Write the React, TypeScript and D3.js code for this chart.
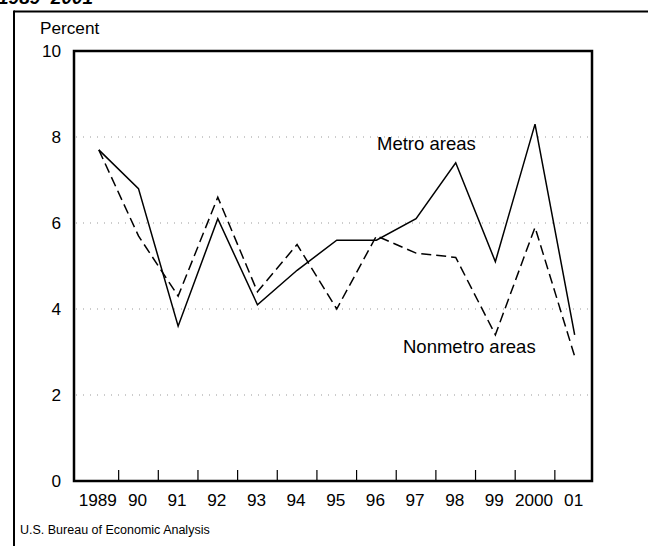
import React from "react";
import * as d3 from "d3";

const years = ["1989", "90", "91", "92", "93", "94", "95", "96", "97", "98", "99", "2000", "01"];
const metro = [7.7, 6.8, 3.6, 6.1, 4.1, 4.9, 5.6, 5.6, 6.1, 7.4, 5.1, 8.3, 3.4];
const nonmetro = [7.7, 5.7, 4.3, 6.6, 4.4, 5.5, 4.0, 5.7, 5.3, 5.2, 3.4, 5.9, 2.9];
const yTicks = [0, 2, 4, 6, 8, 10];
const gridTicks = [2, 4, 6, 8];

const W = 648;
const H = 546;
const plotL = 74;
const plotR = 592;
const plotT = 51;
const plotB = 481;
const FONT = "Arial, 'Liberation Sans', Helvetica, sans-serif";

export default function App() {
  const x = d3.scaleBand<string>().domain(years).range([79, 594.5]);
  const y = d3.scaleLinear().domain([0, 10]).range([plotB, plotT]);
  const cx = (i: number) => (x(years[i]) as number) + x.bandwidth() / 2;
  const line = d3
    .line<number>()
    .x((_, i) => cx(i))
    .y((d) => y(d));
  const boundaries = years.slice(1).map((yr) => x(yr) as number);

  return (
    <svg
      width={W}
      height={H}
      style={{ position: "absolute", left: 0, top: 0, background: "#fff" }}
      fontFamily={FONT}
    >
      <rect x={0} y={0} width={W} height={H} fill="#fff" />
      {/* partially cut title */}
      <text x={-2} y={3.5} fontSize={19} fontWeight="bold" fontStyle="italic" fill="#000">
        1989–2001
      </text>
      {/* outer frame */}
      <line x1={14} x2={W} y1={11.5} y2={11.5} stroke="#000" strokeWidth={2} />
      <line x1={14} x2={14} y1={10.5} y2={H} stroke="#000" strokeWidth={2} />

      <text x={40} y={34} fontSize={17.2} fill="#000">
        Percent
      </text>

      {/* gridlines */}
      {gridTicks.map((t) => (
        <line
          key={t}
          x1={plotL + 2}
          x2={plotR - 2}
          y1={y(t)}
          y2={y(t)}
          stroke="#999"
          strokeWidth={1}
          strokeDasharray="1 6"
        />
      ))}

      {/* y labels */}
      {yTicks.map((t) => (
        <text key={t} x={61} y={y(t) + 6.2} fontSize={17.2} textAnchor="end" fill="#000">
          {t}
        </text>
      ))}

      {/* x ticks */}
      {boundaries.map((b, i) => (
        <line key={i} x1={b} x2={b} y1={plotB} y2={plotB - 11} stroke="#000" strokeWidth={1.2} />
      ))}

      {/* x labels */}
      {years.map((yr, i) => (
        <text key={yr} x={cx(i) - 1} y={506} fontSize={17.2} textAnchor="middle" fill="#000">
          {yr}
        </text>
      ))}

      {/* plot border */}
      <rect
        x={plotL}
        y={plotT}
        width={plotR - plotL}
        height={plotB - plotT}
        fill="none"
        stroke="#000"
        strokeWidth={2.5}
      />

      {/* series */}
      <path d={line(metro) || ""} fill="none" stroke="#000" strokeWidth={1.5} />
      <path
        d={line(nonmetro) || ""}
        fill="none"
        stroke="#000"
        strokeWidth={1.5}
        strokeDasharray="10 5"
      />

      <text x={377} y={149.5} fontSize={18.5} fill="#000">
        Metro areas
      </text>
      <text x={403} y={353} fontSize={18.5} fill="#000">
        Nonmetro areas
      </text>

      <text x={20} y={534} fontSize={12.5} fill="#000">
        U.S. Bureau of Economic Analysis
      </text>
    </svg>
  );
}
